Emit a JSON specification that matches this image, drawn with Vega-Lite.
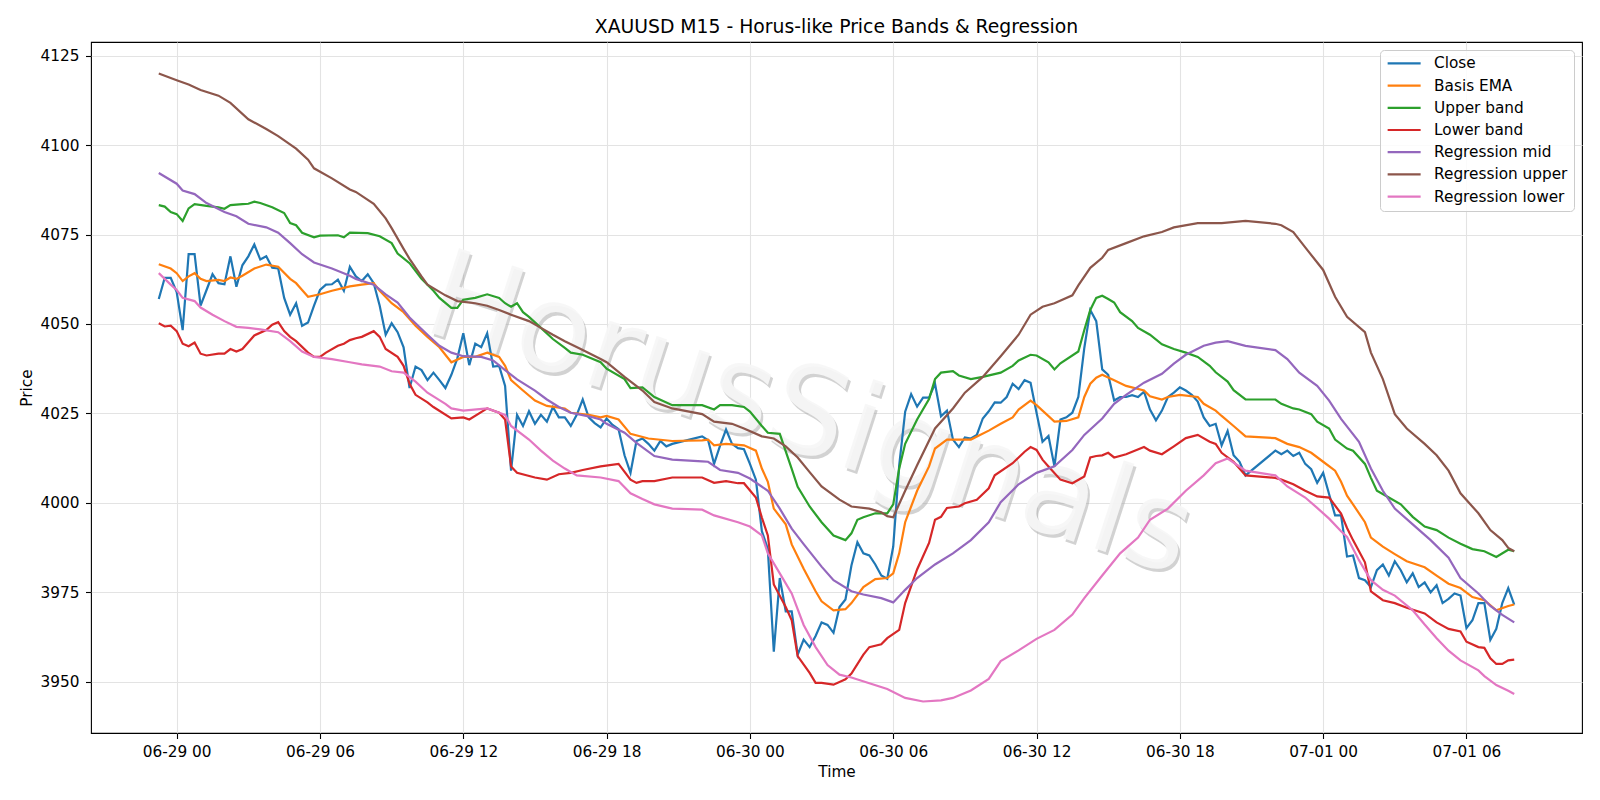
{
"$schema":"https://vega.github.io/schema/vega-lite/v6.json",
"width":1491,"height":691,
"autosize":{"type":"none"},
"padding":{"left":91,"top":42,"right":18,"bottom":67},
"background":"white",
"title":{"text":"XAUUSD M15 - Horus-like Price Bands & Regression","font":"DejaVu Sans","fontSize":18.8,"fontWeight":"normal","color":"black","anchor":"middle","offset":5},
"datasets":{
"wm":[{"t":"2025-06-30T02:31","v":4024.0,"label":"HorusSignals"}],
"close":[
{"t":"2025-06-28T23:15","v":4057.0},{"t":"2025-06-28T23:30","v":4062.9},{"t":"2025-06-28T23:45","v":4062.9},
{"t":"2025-06-29T00:00","v":4058.9},{"t":"2025-06-29T00:15","v":4048.3},{"t":"2025-06-29T00:30","v":4069.5},{"t":"2025-06-29T00:45","v":4069.5},
{"t":"2025-06-29T01:00","v":4055.1},{"t":"2025-06-29T01:15","v":4059.5},{"t":"2025-06-29T01:30","v":4063.9},{"t":"2025-06-29T01:45","v":4061.4},
{"t":"2025-06-29T02:00","v":4061.1},{"t":"2025-06-29T02:15","v":4068.9},{"t":"2025-06-29T02:30","v":4060.4},{"t":"2025-06-29T02:45","v":4066.4},
{"t":"2025-06-29T03:00","v":4068.9},{"t":"2025-06-29T03:15","v":4072.2},{"t":"2025-06-29T03:30","v":4068.0},{"t":"2025-06-29T03:45","v":4068.9},
{"t":"2025-06-29T04:00","v":4065.7},{"t":"2025-06-29T04:15","v":4065.5},{"t":"2025-06-29T04:30","v":4057.3},{"t":"2025-06-29T04:45","v":4052.6},
{"t":"2025-06-29T05:00","v":4055.8},{"t":"2025-06-29T05:15","v":4049.5},{"t":"2025-06-29T05:30","v":4050.4},{"t":"2025-06-29T05:45","v":4055.1},
{"t":"2025-06-29T06:00","v":4059.5},{"t":"2025-06-29T06:15","v":4061.0},{"t":"2025-06-29T06:30","v":4061.1},{"t":"2025-06-29T06:45","v":4062.4},
{"t":"2025-06-29T07:00","v":4059.3},{"t":"2025-06-29T07:15","v":4066.0},{"t":"2025-06-29T07:30","v":4063.3},{"t":"2025-06-29T07:45","v":4062.0},
{"t":"2025-06-29T08:00","v":4063.9},{"t":"2025-06-29T08:15","v":4061.4},{"t":"2025-06-29T08:30","v":4055.1},{"t":"2025-06-29T08:45","v":4047.0},
{"t":"2025-06-29T09:00","v":4050.2},{"t":"2025-06-29T09:15","v":4047.7},{"t":"2025-06-29T09:30","v":4043.5},{"t":"2025-06-29T09:45","v":4032.1},
{"t":"2025-06-29T10:00","v":4038.1},{"t":"2025-06-29T10:15","v":4037.1},{"t":"2025-06-29T10:30","v":4034.3},{"t":"2025-06-29T10:45","v":4036.4},
{"t":"2025-06-29T11:00","v":4034.3},{"t":"2025-06-29T11:15","v":4032.1},{"t":"2025-06-29T11:30","v":4035.8},{"t":"2025-06-29T11:45","v":4040.4},
{"t":"2025-06-29T12:00","v":4047.4},{"t":"2025-06-29T12:15","v":4038.5},{"t":"2025-06-29T12:30","v":4044.5},{"t":"2025-06-29T12:45","v":4043.5},
{"t":"2025-06-29T13:00","v":4047.4},{"t":"2025-06-29T13:15","v":4038.1},{"t":"2025-06-29T13:30","v":4038.3},{"t":"2025-06-29T13:45","v":4032.7},
{"t":"2025-06-29T14:00","v":4009.0},{"t":"2025-06-29T14:15","v":4024.6},{"t":"2025-06-29T14:30","v":4021.5},{"t":"2025-06-29T14:45","v":4025.6},
{"t":"2025-06-29T15:00","v":4022.1},{"t":"2025-06-29T15:15","v":4024.6},{"t":"2025-06-29T15:30","v":4022.7},{"t":"2025-06-29T15:45","v":4026.8},
{"t":"2025-06-29T16:00","v":4023.9},{"t":"2025-06-29T16:15","v":4023.9},{"t":"2025-06-29T16:30","v":4021.5},{"t":"2025-06-29T16:45","v":4024.6},
{"t":"2025-06-29T17:00","v":4028.9},{"t":"2025-06-29T17:15","v":4023.9},{"t":"2025-06-29T17:30","v":4022.3},{"t":"2025-06-29T17:45","v":4021.1},
{"t":"2025-06-29T18:00","v":4023.6},{"t":"2025-06-29T18:15","v":4021.8},{"t":"2025-06-29T18:30","v":4020.6},{"t":"2025-06-29T18:45","v":4013.3},
{"t":"2025-06-29T19:00","v":4008.4},{"t":"2025-06-29T19:15","v":4017.3},{"t":"2025-06-29T19:30","v":4018.0},{"t":"2025-06-29T19:45","v":4016.5},
{"t":"2025-06-29T20:00","v":4014.6},{"t":"2025-06-29T20:15","v":4017.3},{"t":"2025-06-29T20:30","v":4015.8},{"t":"2025-06-29T20:45","v":4016.5},
{"t":"2025-06-29T22:00","v":4018.6},{"t":"2025-06-29T22:15","v":4017.5},{"t":"2025-06-29T22:30","v":4010.9},{"t":"2025-06-29T22:45","v":4016.0},
{"t":"2025-06-29T23:00","v":4020.5},{"t":"2025-06-29T23:15","v":4016.5},{"t":"2025-06-29T23:30","v":4015.3},{"t":"2025-06-29T23:45","v":4015.0},
{"t":"2025-06-30T00:00","v":4010.9},{"t":"2025-06-30T00:15","v":4006.5},{"t":"2025-06-30T00:30","v":3992.1},{"t":"2025-06-30T00:45","v":3987.1},
{"t":"2025-06-30T01:00","v":3958.4},{"t":"2025-06-30T01:15","v":3979.0},{"t":"2025-06-30T01:30","v":3969.7},{"t":"2025-06-30T01:45","v":3969.7},
{"t":"2025-06-30T02:00","v":3957.6},{"t":"2025-06-30T02:15","v":3961.8},{"t":"2025-06-30T02:30","v":3959.7},{"t":"2025-06-30T02:45","v":3962.8},
{"t":"2025-06-30T03:00","v":3966.6},{"t":"2025-06-30T03:15","v":3965.9},{"t":"2025-06-30T03:30","v":3963.7},{"t":"2025-06-30T03:45","v":3970.9},
{"t":"2025-06-30T04:00","v":3973.0},{"t":"2025-06-30T04:15","v":3982.5},{"t":"2025-06-30T04:30","v":3989.0},{"t":"2025-06-30T04:45","v":3985.9},
{"t":"2025-06-30T05:00","v":3985.3},{"t":"2025-06-30T05:15","v":3982.8},{"t":"2025-06-30T05:30","v":3979.7},{"t":"2025-06-30T05:45","v":3978.8},
{"t":"2025-06-30T06:00","v":3987.8},{"t":"2025-06-30T06:15","v":4010.4},{"t":"2025-06-30T06:30","v":4025.5},{"t":"2025-06-30T06:45","v":4030.4},
{"t":"2025-06-30T07:00","v":4026.9},{"t":"2025-06-30T07:15","v":4029.4},{"t":"2025-06-30T07:30","v":4029.4},{"t":"2025-06-30T07:45","v":4033.3},
{"t":"2025-06-30T08:00","v":4024.2},{"t":"2025-06-30T08:15","v":4025.8},{"t":"2025-06-30T08:30","v":4017.7},{"t":"2025-06-30T08:45","v":4015.6},
{"t":"2025-06-30T09:00","v":4018.3},{"t":"2025-06-30T09:15","v":4018.0},{"t":"2025-06-30T09:30","v":4019.0},{"t":"2025-06-30T09:45","v":4023.6},
{"t":"2025-06-30T10:00","v":4025.6},{"t":"2025-06-30T10:15","v":4028.1},{"t":"2025-06-30T10:30","v":4028.0},{"t":"2025-06-30T10:45","v":4029.6},
{"t":"2025-06-30T11:00","v":4033.3},{"t":"2025-06-30T11:15","v":4031.8},{"t":"2025-06-30T11:30","v":4034.3},{"t":"2025-06-30T11:45","v":4033.6},
{"t":"2025-06-30T12:00","v":4025.2},{"t":"2025-06-30T12:15","v":4017.1},{"t":"2025-06-30T12:30","v":4018.7},{"t":"2025-06-30T12:45","v":4010.2},
{"t":"2025-06-30T13:00","v":4023.3},{"t":"2025-06-30T13:15","v":4023.9},{"t":"2025-06-30T13:30","v":4025.2},{"t":"2025-06-30T13:45","v":4029.6},
{"t":"2025-06-30T14:00","v":4043.3},{"t":"2025-06-30T14:15","v":4053.9},{"t":"2025-06-30T14:30","v":4050.8},{"t":"2025-06-30T14:45","v":4037.3},
{"t":"2025-06-30T15:00","v":4035.8},{"t":"2025-06-30T15:15","v":4028.6},{"t":"2025-06-30T15:30","v":4029.6},{"t":"2025-06-30T15:45","v":4029.6},
{"t":"2025-06-30T16:00","v":4030.1},{"t":"2025-06-30T16:15","v":4029.6},{"t":"2025-06-30T16:30","v":4031.1},{"t":"2025-06-30T16:45","v":4026.1},
{"t":"2025-06-30T17:00","v":4023.1},{"t":"2025-06-30T17:15","v":4025.8},{"t":"2025-06-30T17:30","v":4029.6},{"t":"2025-06-30T17:45","v":4030.8},
{"t":"2025-06-30T18:00","v":4032.3},{"t":"2025-06-30T18:15","v":4031.4},{"t":"2025-06-30T18:30","v":4030.2},{"t":"2025-06-30T18:45","v":4028.3},
{"t":"2025-06-30T19:00","v":4023.9},{"t":"2025-06-30T19:15","v":4021.5},{"t":"2025-06-30T19:30","v":4022.1},{"t":"2025-06-30T19:45","v":4016.1},
{"t":"2025-06-30T20:00","v":4020.1},{"t":"2025-06-30T20:15","v":4013.3},{"t":"2025-06-30T20:30","v":4011.5},{"t":"2025-06-30T20:45","v":4007.7},
{"t":"2025-06-30T22:00","v":4014.6},{"t":"2025-06-30T22:15","v":4013.6},{"t":"2025-06-30T22:30","v":4014.6},{"t":"2025-06-30T22:45","v":4013.1},
{"t":"2025-06-30T23:00","v":4014.0},{"t":"2025-06-30T23:15","v":4010.9},{"t":"2025-06-30T23:30","v":4009.4},{"t":"2025-06-30T23:45","v":4005.6},
{"t":"2025-07-01T00:00","v":4008.4},{"t":"2025-07-01T00:15","v":4002.4},{"t":"2025-07-01T00:30","v":3996.5},{"t":"2025-07-01T00:45","v":3996.5},
{"t":"2025-07-01T01:00","v":3985.0},{"t":"2025-07-01T01:15","v":3985.3},{"t":"2025-07-01T01:30","v":3979.0},{"t":"2025-07-01T01:45","v":3978.4},
{"t":"2025-07-01T02:00","v":3976.5},{"t":"2025-07-01T02:15","v":3981.2},{"t":"2025-07-01T02:30","v":3982.8},{"t":"2025-07-01T02:45","v":3979.7},
{"t":"2025-07-01T03:00","v":3983.7},{"t":"2025-07-01T03:15","v":3981.2},{"t":"2025-07-01T03:30","v":3977.8},{"t":"2025-07-01T03:45","v":3980.3},
{"t":"2025-07-01T04:00","v":3976.5},{"t":"2025-07-01T04:15","v":3977.8},{"t":"2025-07-01T04:30","v":3975.0},{"t":"2025-07-01T04:45","v":3977.0},
{"t":"2025-07-01T05:00","v":3972.0},{"t":"2025-07-01T05:15","v":3973.2},{"t":"2025-07-01T05:30","v":3974.7},{"t":"2025-07-01T05:45","v":3974.1},
{"t":"2025-07-01T06:00","v":3965.0},{"t":"2025-07-01T06:15","v":3967.2},{"t":"2025-07-01T06:30","v":3972.0},{"t":"2025-07-01T06:45","v":3972.0},
{"t":"2025-07-01T07:00","v":3961.7},{"t":"2025-07-01T07:15","v":3964.8},{"t":"2025-07-01T07:30","v":3972.0},{"t":"2025-07-01T07:45","v":3976.2},
{"t":"2025-07-01T08:00","v":3971.6}
],
"ema":[
{"t":"2025-06-28T23:15","v":4066.7},{"t":"2025-06-28T23:45","v":4065.5},{"t":"2025-06-29T00:00","v":4064.2},{"t":"2025-06-29T00:15","v":4062.0},
{"t":"2025-06-29T00:30","v":4063.3},{"t":"2025-06-29T00:45","v":4064.2},{"t":"2025-06-29T01:00","v":4062.6},{"t":"2025-06-29T01:15","v":4062.0},
{"t":"2025-06-29T01:45","v":4062.3},{"t":"2025-06-29T02:00","v":4062.0},{"t":"2025-06-29T02:15","v":4063.0},{"t":"2025-06-29T02:30","v":4062.6},
{"t":"2025-06-29T02:45","v":4063.5},{"t":"2025-06-29T03:15","v":4065.5},{"t":"2025-06-29T03:45","v":4066.6},{"t":"2025-06-29T04:15","v":4066.0},
{"t":"2025-06-29T04:45","v":4062.6},{"t":"2025-06-29T05:00","v":4061.4},{"t":"2025-06-29T05:15","v":4059.5},{"t":"2025-06-29T05:30","v":4057.6},
{"t":"2025-06-29T06:00","v":4058.3},{"t":"2025-06-29T06:30","v":4059.3},{"t":"2025-06-29T07:00","v":4060.1},{"t":"2025-06-29T07:15","v":4060.5},
{"t":"2025-06-29T07:45","v":4061.0},{"t":"2025-06-29T08:15","v":4061.4},{"t":"2025-06-29T08:30","v":4059.3},{"t":"2025-06-29T09:00","v":4055.8},
{"t":"2025-06-29T09:30","v":4053.3},{"t":"2025-06-29T10:00","v":4049.5},{"t":"2025-06-29T10:30","v":4046.4},{"t":"2025-06-29T11:00","v":4043.5},
{"t":"2025-06-29T11:30","v":4039.3},{"t":"2025-06-29T12:00","v":4040.8},{"t":"2025-06-29T12:30","v":4040.8},{"t":"2025-06-29T13:00","v":4042.0},
{"t":"2025-06-29T13:30","v":4040.8},{"t":"2025-06-29T13:45","v":4038.3},{"t":"2025-06-29T14:00","v":4034.3},{"t":"2025-06-29T14:30","v":4031.4},
{"t":"2025-06-29T15:00","v":4028.6},{"t":"2025-06-29T15:30","v":4027.1},{"t":"2025-06-29T16:15","v":4026.4},{"t":"2025-06-29T16:30","v":4025.2},
{"t":"2025-06-29T17:15","v":4024.6},{"t":"2025-06-29T17:45","v":4023.9},{"t":"2025-06-29T18:00","v":4024.3},{"t":"2025-06-29T18:30","v":4023.3},
{"t":"2025-06-29T19:00","v":4019.3},{"t":"2025-06-29T19:45","v":4018.0},{"t":"2025-06-29T20:45","v":4017.3},{"t":"2025-06-29T22:00","v":4017.5},
{"t":"2025-06-29T22:15","v":4017.7},{"t":"2025-06-29T22:30","v":4016.1},{"t":"2025-06-29T23:00","v":4016.5},{"t":"2025-06-29T23:45","v":4016.1},
{"t":"2025-06-30T00:15","v":4014.6},{"t":"2025-06-30T00:30","v":4009.6},{"t":"2025-06-30T00:45","v":4005.9},{"t":"2025-06-30T01:00","v":3998.4},
{"t":"2025-06-30T01:30","v":3994.0},{"t":"2025-06-30T01:45","v":3988.4},{"t":"2025-06-30T02:15","v":3981.6},{"t":"2025-06-30T02:45","v":3975.3},
{"t":"2025-06-30T03:00","v":3972.5},{"t":"2025-06-30T03:30","v":3970.0},{"t":"2025-06-30T04:00","v":3970.3},{"t":"2025-06-30T04:15","v":3972.0},
{"t":"2025-06-30T04:45","v":3976.5},{"t":"2025-06-30T05:15","v":3978.7},{"t":"2025-06-30T05:45","v":3979.0},{"t":"2025-06-30T06:00","v":3980.3},
{"t":"2025-06-30T06:15","v":3985.9},{"t":"2025-06-30T06:30","v":3994.6},{"t":"2025-06-30T07:00","v":4003.4},{"t":"2025-06-30T07:30","v":4010.2},
{"t":"2025-06-30T07:45","v":4015.2},{"t":"2025-06-30T08:15","v":4017.7},{"t":"2025-06-30T08:45","v":4017.7},{"t":"2025-06-30T09:15","v":4017.7},
{"t":"2025-06-30T10:00","v":4020.2},{"t":"2025-06-30T10:30","v":4022.1},{"t":"2025-06-30T11:00","v":4023.9},{"t":"2025-06-30T11:15","v":4026.1},
{"t":"2025-06-30T11:45","v":4028.6},{"t":"2025-06-30T12:00","v":4027.3},{"t":"2025-06-30T12:45","v":4022.7},{"t":"2025-06-30T13:15","v":4022.9},
{"t":"2025-06-30T13:45","v":4023.9},{"t":"2025-06-30T14:00","v":4029.6},{"t":"2025-06-30T14:15","v":4033.3},{"t":"2025-06-30T14:30","v":4035.0},
{"t":"2025-06-30T14:45","v":4035.8},{"t":"2025-06-30T15:15","v":4034.3},{"t":"2025-06-30T15:45","v":4032.7},{"t":"2025-06-30T16:30","v":4031.4},
{"t":"2025-06-30T16:45","v":4029.8},{"t":"2025-06-30T17:15","v":4028.9},{"t":"2025-06-30T17:30","v":4029.6},{"t":"2025-06-30T18:00","v":4030.2},
{"t":"2025-06-30T18:45","v":4029.6},{"t":"2025-06-30T19:00","v":4027.7},{"t":"2025-06-30T19:30","v":4025.8},{"t":"2025-06-30T19:45","v":4024.3},
{"t":"2025-06-30T20:15","v":4021.5},{"t":"2025-06-30T20:45","v":4018.6},{"t":"2025-06-30T22:00","v":4018.1},{"t":"2025-06-30T22:30","v":4016.5},
{"t":"2025-06-30T23:00","v":4015.6},{"t":"2025-06-30T23:30","v":4014.0},{"t":"2025-07-01T00:00","v":4011.5},{"t":"2025-07-01T00:30","v":4009.0},
{"t":"2025-07-01T00:45","v":4005.9},{"t":"2025-07-01T01:00","v":4002.0},{"t":"2025-07-01T01:15","v":3999.6},{"t":"2025-07-01T01:45","v":3994.6},
{"t":"2025-07-01T02:00","v":3990.3},{"t":"2025-07-01T02:30","v":3987.8},{"t":"2025-07-01T03:00","v":3985.7},{"t":"2025-07-01T03:30","v":3983.7},
{"t":"2025-07-01T04:15","v":3982.0},{"t":"2025-07-01T04:45","v":3979.7},{"t":"2025-07-01T05:15","v":3977.4},{"t":"2025-07-01T05:45","v":3976.2},
{"t":"2025-07-01T06:15","v":3973.7},{"t":"2025-07-01T06:45","v":3972.8},{"t":"2025-07-01T07:15","v":3970.0},{"t":"2025-07-01T07:45","v":3971.2},
{"t":"2025-07-01T08:00","v":3971.6}
],
"up":[
{"t":"2025-06-28T23:15","v":4083.2},{"t":"2025-06-28T23:30","v":4082.8},{"t":"2025-06-28T23:45","v":4081.3},{"t":"2025-06-29T00:00","v":4080.7},
{"t":"2025-06-29T00:15","v":4078.8},{"t":"2025-06-29T00:30","v":4082.3},{"t":"2025-06-29T00:45","v":4083.5},{"t":"2025-06-29T01:15","v":4083.0},
{"t":"2025-06-29T01:45","v":4082.6},{"t":"2025-06-29T02:00","v":4082.2},{"t":"2025-06-29T02:15","v":4083.2},{"t":"2025-06-29T02:45","v":4083.5},
{"t":"2025-06-29T03:00","v":4083.6},{"t":"2025-06-29T03:15","v":4084.2},{"t":"2025-06-29T03:30","v":4083.8},{"t":"2025-06-29T04:00","v":4082.6},
{"t":"2025-06-29T04:30","v":4081.0},{"t":"2025-06-29T04:45","v":4078.2},{"t":"2025-06-29T05:00","v":4077.6},{"t":"2025-06-29T05:15","v":4075.5},
{"t":"2025-06-29T05:45","v":4074.2},{"t":"2025-06-29T06:00","v":4074.7},{"t":"2025-06-29T06:45","v":4074.8},{"t":"2025-06-29T07:00","v":4074.2},
{"t":"2025-06-29T07:15","v":4075.5},{"t":"2025-06-29T08:00","v":4075.4},{"t":"2025-06-29T08:30","v":4074.5},{"t":"2025-06-29T09:00","v":4072.6},
{"t":"2025-06-29T09:15","v":4069.7},{"t":"2025-06-29T09:45","v":4067.0},{"t":"2025-06-29T10:15","v":4062.6},{"t":"2025-06-29T10:45","v":4059.3},
{"t":"2025-06-29T11:00","v":4057.3},{"t":"2025-06-29T11:30","v":4054.5},{"t":"2025-06-29T11:45","v":4054.5},{"t":"2025-06-29T12:00","v":4056.8},
{"t":"2025-06-29T12:30","v":4057.3},{"t":"2025-06-29T13:00","v":4058.3},{"t":"2025-06-29T13:30","v":4057.3},{"t":"2025-06-29T13:45","v":4055.8},
{"t":"2025-06-29T14:00","v":4054.8},{"t":"2025-06-29T14:15","v":4055.8},{"t":"2025-06-29T14:30","v":4053.3},{"t":"2025-06-29T14:45","v":4052.0},
{"t":"2025-06-29T15:15","v":4048.9},{"t":"2025-06-29T15:45","v":4045.8},{"t":"2025-06-29T16:15","v":4043.3},{"t":"2025-06-29T16:30","v":4042.0},
{"t":"2025-06-29T17:00","v":4041.4},{"t":"2025-06-29T17:45","v":4039.3},{"t":"2025-06-29T18:00","v":4037.5},{"t":"2025-06-29T18:45","v":4034.6},
{"t":"2025-06-29T19:00","v":4032.1},{"t":"2025-06-29T19:30","v":4032.3},{"t":"2025-06-29T20:00","v":4029.6},{"t":"2025-06-29T20:45","v":4027.3},
{"t":"2025-06-29T22:00","v":4027.3},{"t":"2025-06-29T22:30","v":4026.1},{"t":"2025-06-29T22:45","v":4027.3},{"t":"2025-06-29T23:15","v":4027.3},
{"t":"2025-06-29T23:45","v":4026.8},{"t":"2025-06-30T00:00","v":4025.5},{"t":"2025-06-30T00:30","v":4021.5},{"t":"2025-06-30T00:45","v":4019.6},
{"t":"2025-06-30T01:15","v":4019.3},{"t":"2025-06-30T01:45","v":4009.5},{"t":"2025-06-30T02:00","v":4004.5},{"t":"2025-06-30T02:30","v":3999.0},
{"t":"2025-06-30T03:00","v":3994.6},{"t":"2025-06-30T03:30","v":3990.9},{"t":"2025-06-30T04:00","v":3989.6},{"t":"2025-06-30T04:15","v":3991.5},
{"t":"2025-06-30T04:30","v":3995.3},{"t":"2025-06-30T04:45","v":3996.0},{"t":"2025-06-30T05:15","v":3997.1},{"t":"2025-06-30T05:45","v":3997.1},
{"t":"2025-06-30T06:00","v":3999.6},{"t":"2025-06-30T06:15","v":4009.6},{"t":"2025-06-30T06:30","v":4016.5},{"t":"2025-06-30T07:00","v":4023.3},
{"t":"2025-06-30T07:30","v":4029.0},{"t":"2025-06-30T07:45","v":4034.6},{"t":"2025-06-30T08:00","v":4036.4},{"t":"2025-06-30T08:30","v":4036.8},
{"t":"2025-06-30T08:45","v":4035.6},{"t":"2025-06-30T09:15","v":4034.6},{"t":"2025-06-30T09:45","v":4035.2},{"t":"2025-06-30T10:30","v":4036.4},
{"t":"2025-06-30T11:00","v":4038.3},{"t":"2025-06-30T11:15","v":4039.8},{"t":"2025-06-30T11:45","v":4041.4},{"t":"2025-06-30T12:00","v":4041.2},
{"t":"2025-06-30T12:30","v":4039.3},{"t":"2025-06-30T12:45","v":4037.3},{"t":"2025-06-30T13:00","v":4039.0},{"t":"2025-06-30T13:45","v":4042.3},
{"t":"2025-06-30T14:00","v":4048.3},{"t":"2025-06-30T14:15","v":4053.9},{"t":"2025-06-30T14:30","v":4057.3},{"t":"2025-06-30T14:45","v":4057.9},
{"t":"2025-06-30T15:00","v":4057.0},{"t":"2025-06-30T15:15","v":4056.0},{"t":"2025-06-30T15:30","v":4053.3},{"t":"2025-06-30T16:00","v":4050.8},
{"t":"2025-06-30T16:15","v":4048.9},{"t":"2025-06-30T16:45","v":4047.0},{"t":"2025-06-30T17:15","v":4044.3},{"t":"2025-06-30T17:45","v":4043.0},
{"t":"2025-06-30T18:15","v":4042.0},{"t":"2025-06-30T18:45","v":4040.8},{"t":"2025-06-30T19:15","v":4038.3},{"t":"2025-06-30T19:30","v":4036.5},
{"t":"2025-06-30T20:00","v":4033.9},{"t":"2025-06-30T20:15","v":4031.5},{"t":"2025-06-30T20:45","v":4028.9},{"t":"2025-06-30T22:00","v":4028.9},
{"t":"2025-06-30T22:15","v":4027.7},{"t":"2025-06-30T22:45","v":4026.4},{"t":"2025-06-30T23:00","v":4026.1},{"t":"2025-06-30T23:30","v":4024.8},
{"t":"2025-06-30T23:45","v":4022.7},{"t":"2025-07-01T00:15","v":4020.8},{"t":"2025-07-01T00:30","v":4017.7},{"t":"2025-07-01T01:00","v":4015.2},
{"t":"2025-07-01T01:15","v":4014.6},{"t":"2025-07-01T01:45","v":4010.9},{"t":"2025-07-01T02:00","v":4007.0},{"t":"2025-07-01T02:15","v":4003.4},
{"t":"2025-07-01T02:45","v":4001.5},{"t":"2025-07-01T03:15","v":3999.6},{"t":"2025-07-01T03:45","v":3996.1},{"t":"2025-07-01T04:15","v":3993.4},
{"t":"2025-07-01T04:45","v":3992.4},{"t":"2025-07-01T05:15","v":3990.3},{"t":"2025-07-01T05:45","v":3988.6},{"t":"2025-07-01T06:15","v":3987.1},
{"t":"2025-07-01T06:45","v":3986.5},{"t":"2025-07-01T07:15","v":3984.9},{"t":"2025-07-01T07:45","v":3986.9},{"t":"2025-07-01T08:00","v":3986.5}
],
"lo":[
{"t":"2025-06-28T23:15","v":4050.2},{"t":"2025-06-28T23:30","v":4049.3},{"t":"2025-06-28T23:45","v":4049.5},{"t":"2025-06-29T00:00","v":4048.0},
{"t":"2025-06-29T00:15","v":4044.5},{"t":"2025-06-29T00:30","v":4043.8},{"t":"2025-06-29T00:45","v":4044.8},{"t":"2025-06-29T01:00","v":4041.7},
{"t":"2025-06-29T01:15","v":4041.2},{"t":"2025-06-29T01:45","v":4041.7},{"t":"2025-06-29T02:00","v":4041.7},{"t":"2025-06-29T02:15","v":4043.0},
{"t":"2025-06-29T02:30","v":4042.3},{"t":"2025-06-29T02:45","v":4043.0},{"t":"2025-06-29T03:00","v":4044.9},{"t":"2025-06-29T03:15","v":4046.8},
{"t":"2025-06-29T03:45","v":4048.3},{"t":"2025-06-29T04:00","v":4049.8},{"t":"2025-06-29T04:15","v":4050.5},{"t":"2025-06-29T04:30","v":4048.0},
{"t":"2025-06-29T04:45","v":4046.4},{"t":"2025-06-29T05:00","v":4045.2},{"t":"2025-06-29T05:30","v":4042.0},{"t":"2025-06-29T05:45","v":4040.8},
{"t":"2025-06-29T06:00","v":4040.8},{"t":"2025-06-29T06:15","v":4042.0},{"t":"2025-06-29T06:45","v":4043.9},{"t":"2025-06-29T07:00","v":4044.5},
{"t":"2025-06-29T07:15","v":4045.5},{"t":"2025-06-29T07:30","v":4046.0},{"t":"2025-06-29T07:45","v":4046.4},{"t":"2025-06-29T08:15","v":4048.0},
{"t":"2025-06-29T08:30","v":4046.4},{"t":"2025-06-29T08:45","v":4043.0},{"t":"2025-06-29T09:15","v":4040.8},{"t":"2025-06-29T09:30","v":4038.3},
{"t":"2025-06-29T09:45","v":4033.3},{"t":"2025-06-29T10:00","v":4030.2},{"t":"2025-06-29T10:30","v":4028.1},{"t":"2025-06-29T10:45","v":4026.8},
{"t":"2025-06-29T11:30","v":4023.6},{"t":"2025-06-29T12:00","v":4023.9},{"t":"2025-06-29T12:15","v":4023.3},{"t":"2025-06-29T13:00","v":4026.4},
{"t":"2025-06-29T13:30","v":4025.2},{"t":"2025-06-29T13:45","v":4023.3},{"t":"2025-06-29T14:00","v":4010.2},{"t":"2025-06-29T14:15","v":4008.4},
{"t":"2025-06-29T15:00","v":4007.1},{"t":"2025-06-29T15:30","v":4006.5},{"t":"2025-06-29T16:00","v":4008.0},{"t":"2025-06-29T16:30","v":4008.4},
{"t":"2025-06-29T17:00","v":4009.2},{"t":"2025-06-29T17:45","v":4010.2},{"t":"2025-06-29T18:30","v":4010.9},{"t":"2025-06-29T19:00","v":4006.5},
{"t":"2025-06-29T19:15","v":4005.6},{"t":"2025-06-29T19:30","v":4006.1},{"t":"2025-06-29T20:00","v":4006.1},{"t":"2025-06-29T20:45","v":4007.1},
{"t":"2025-06-29T22:00","v":4007.1},{"t":"2025-06-29T22:30","v":4005.6},{"t":"2025-06-29T23:00","v":4006.1},{"t":"2025-06-29T23:30","v":4005.5},
{"t":"2025-06-29T23:45","v":4005.5},{"t":"2025-06-30T00:15","v":4001.5},{"t":"2025-06-30T00:30","v":3995.9},{"t":"2025-06-30T00:45","v":3990.9},
{"t":"2025-06-30T01:00","v":3977.2},{"t":"2025-06-30T01:30","v":3970.9},{"t":"2025-06-30T01:45","v":3967.2},{"t":"2025-06-30T02:00","v":3957.2},
{"t":"2025-06-30T02:30","v":3952.5},{"t":"2025-06-30T02:45","v":3949.7},{"t":"2025-06-30T03:00","v":3949.7},{"t":"2025-06-30T03:30","v":3949.2},
{"t":"2025-06-30T04:00","v":3950.7},{"t":"2025-06-30T04:15","v":3952.3},{"t":"2025-06-30T04:45","v":3957.6},{"t":"2025-06-30T05:00","v":3959.7},
{"t":"2025-06-30T05:30","v":3960.5},{"t":"2025-06-30T05:45","v":3962.2},{"t":"2025-06-30T06:15","v":3964.5},{"t":"2025-06-30T06:30","v":3972.0},
{"t":"2025-06-30T07:00","v":3981.4},{"t":"2025-06-30T07:30","v":3988.8},{"t":"2025-06-30T07:45","v":3995.3},{"t":"2025-06-30T08:00","v":3996.1},
{"t":"2025-06-30T08:15","v":3998.6},{"t":"2025-06-30T08:45","v":3999.0},{"t":"2025-06-30T09:00","v":3999.9},{"t":"2025-06-30T09:30","v":4000.9},
{"t":"2025-06-30T10:00","v":4004.1},{"t":"2025-06-30T10:15","v":4007.7},{"t":"2025-06-30T11:00","v":4011.1},{"t":"2025-06-30T11:30","v":4014.3},
{"t":"2025-06-30T11:45","v":4015.6},{"t":"2025-06-30T12:00","v":4014.8},{"t":"2025-06-30T12:15","v":4012.1},{"t":"2025-06-30T12:30","v":4010.2},
{"t":"2025-06-30T13:00","v":4006.5},{"t":"2025-06-30T13:30","v":4005.5},{"t":"2025-06-30T14:00","v":4007.4},{"t":"2025-06-30T14:15","v":4012.7},
{"t":"2025-06-30T14:30","v":4013.1},{"t":"2025-06-30T14:45","v":4013.3},{"t":"2025-06-30T15:00","v":4014.0},{"t":"2025-06-30T15:15","v":4012.7},
{"t":"2025-06-30T15:45","v":4013.6},{"t":"2025-06-30T16:30","v":4015.6},{"t":"2025-06-30T16:45","v":4014.6},{"t":"2025-06-30T17:15","v":4013.6},
{"t":"2025-06-30T17:45","v":4015.8},{"t":"2025-06-30T18:15","v":4018.1},{"t":"2025-06-30T18:45","v":4019.0},{"t":"2025-06-30T19:15","v":4017.1},
{"t":"2025-06-30T19:30","v":4016.5},{"t":"2025-06-30T19:45","v":4014.0},{"t":"2025-06-30T20:15","v":4011.5},{"t":"2025-06-30T20:45","v":4007.7},
{"t":"2025-06-30T22:00","v":4007.0},{"t":"2025-06-30T22:15","v":4006.5},{"t":"2025-06-30T22:45","v":4005.2},{"t":"2025-06-30T23:15","v":4003.4},
{"t":"2025-06-30T23:45","v":4001.8},{"t":"2025-07-01T00:15","v":4001.5},{"t":"2025-07-01T00:45","v":3997.0},{"t":"2025-07-01T01:00","v":3993.0},
{"t":"2025-07-01T01:15","v":3989.6},{"t":"2025-07-01T01:45","v":3983.4},{"t":"2025-07-01T02:00","v":3975.3},{"t":"2025-07-01T02:30","v":3972.8},
{"t":"2025-07-01T03:00","v":3972.0},{"t":"2025-07-01T03:30","v":3970.7},{"t":"2025-07-01T04:15","v":3969.1},{"t":"2025-07-01T04:45","v":3966.6},
{"t":"2025-07-01T05:15","v":3964.8},{"t":"2025-07-01T05:45","v":3964.1},{"t":"2025-07-01T06:00","v":3961.2},{"t":"2025-07-01T06:30","v":3959.7},
{"t":"2025-07-01T06:45","v":3959.5},{"t":"2025-07-01T07:00","v":3956.6},{"t":"2025-07-01T07:15","v":3955.0},{"t":"2025-07-01T07:30","v":3955.0},
{"t":"2025-07-01T07:45","v":3956.0},{"t":"2025-07-01T08:00","v":3956.2}
],
"rmid":[
{"t":"2025-06-28T23:15","v":4092.2},{"t":"2025-06-29T00:00","v":4089.2},{"t":"2025-06-29T00:15","v":4087.3},{"t":"2025-06-29T00:45","v":4086.3},
{"t":"2025-06-29T01:15","v":4083.8},{"t":"2025-06-29T02:00","v":4081.3},{"t":"2025-06-29T02:30","v":4080.1},{"t":"2025-06-29T03:00","v":4078.0},
{"t":"2025-06-29T03:45","v":4077.0},{"t":"2025-06-29T04:15","v":4075.5},{"t":"2025-06-29T04:45","v":4072.6},{"t":"2025-06-29T05:15","v":4069.5},
{"t":"2025-06-29T05:45","v":4067.2},{"t":"2025-06-29T06:30","v":4065.5},{"t":"2025-06-29T07:15","v":4063.5},{"t":"2025-06-29T07:30","v":4062.6},
{"t":"2025-06-29T08:15","v":4061.0},{"t":"2025-06-29T08:45","v":4058.3},{"t":"2025-06-29T09:15","v":4056.0},{"t":"2025-06-29T09:45","v":4051.8},
{"t":"2025-06-29T10:30","v":4047.0},{"t":"2025-06-29T11:00","v":4043.9},{"t":"2025-06-29T11:30","v":4042.0},{"t":"2025-06-29T12:00","v":4041.0},
{"t":"2025-06-29T12:45","v":4040.8},{"t":"2025-06-29T13:15","v":4039.8},{"t":"2025-06-29T13:45","v":4037.1},{"t":"2025-06-29T14:15","v":4034.5},
{"t":"2025-06-29T15:00","v":4031.4},{"t":"2025-06-29T15:30","v":4028.9},{"t":"2025-06-29T16:00","v":4026.8},{"t":"2025-06-29T16:30","v":4025.2},
{"t":"2025-06-29T17:15","v":4024.2},{"t":"2025-06-29T17:45","v":4023.3},{"t":"2025-06-29T18:00","v":4022.1},{"t":"2025-06-29T18:45","v":4019.6},
{"t":"2025-06-29T19:15","v":4016.8},{"t":"2025-06-29T20:00","v":4013.1},{"t":"2025-06-29T20:45","v":4012.1},{"t":"2025-06-29T22:00","v":4011.6},
{"t":"2025-06-29T22:15","v":4011.5},{"t":"2025-06-29T22:45","v":4009.2},{"t":"2025-06-29T23:30","v":4008.4},{"t":"2025-06-30T00:00","v":4006.8},
{"t":"2025-06-30T00:45","v":4003.4},{"t":"2025-06-30T01:15","v":3998.4},{"t":"2025-06-30T01:45","v":3992.8},{"t":"2025-06-30T02:15","v":3988.5},
{"t":"2025-06-30T03:00","v":3982.2},{"t":"2025-06-30T03:30","v":3978.4},{"t":"2025-06-30T04:15","v":3975.3},{"t":"2025-06-30T04:45","v":3974.4},
{"t":"2025-06-30T05:30","v":3973.4},{"t":"2025-06-30T06:00","v":3972.2},{"t":"2025-06-30T06:30","v":3975.7},{"t":"2025-06-30T07:00","v":3979.0},
{"t":"2025-06-30T07:45","v":3982.8},{"t":"2025-06-30T08:30","v":3985.9},{"t":"2025-06-30T09:15","v":3989.6},{"t":"2025-06-30T10:00","v":3994.6},
{"t":"2025-06-30T10:30","v":4000.2},{"t":"2025-06-30T11:15","v":4005.2},{"t":"2025-06-30T12:00","v":4008.4},{"t":"2025-06-30T12:45","v":4010.2},
{"t":"2025-06-30T13:30","v":4014.8},{"t":"2025-06-30T14:00","v":4019.0},{"t":"2025-06-30T14:45","v":4023.6},{"t":"2025-06-30T15:15","v":4027.7},
{"t":"2025-06-30T15:45","v":4030.2},{"t":"2025-06-30T16:30","v":4033.6},{"t":"2025-06-30T17:15","v":4036.1},{"t":"2025-06-30T17:45","v":4038.9},
{"t":"2025-06-30T18:15","v":4041.4},{"t":"2025-06-30T19:00","v":4043.9},{"t":"2025-06-30T19:30","v":4044.8},{"t":"2025-06-30T20:00","v":4045.2},
{"t":"2025-06-30T20:45","v":4043.9},{"t":"2025-06-30T22:00","v":4042.7},{"t":"2025-06-30T22:30","v":4040.2},{"t":"2025-06-30T23:00","v":4036.4},
{"t":"2025-06-30T23:45","v":4032.7},{"t":"2025-07-01T00:15","v":4028.6},{"t":"2025-07-01T00:45","v":4023.5},{"t":"2025-07-01T01:30","v":4017.1},
{"t":"2025-07-01T02:00","v":4009.6},{"t":"2025-07-01T02:30","v":4003.4},{"t":"2025-07-01T03:00","v":3998.4},{"t":"2025-07-01T03:45","v":3994.0},
{"t":"2025-07-01T04:30","v":3989.6},{"t":"2025-07-01T05:15","v":3984.7},{"t":"2025-07-01T05:45","v":3979.0},{"t":"2025-07-01T06:30","v":3974.7},
{"t":"2025-07-01T07:00","v":3971.2},{"t":"2025-07-01T07:30","v":3968.7},{"t":"2025-07-01T08:00","v":3966.6}
],
"rup":[
{"t":"2025-06-28T23:15","v":4120.0},{"t":"2025-06-29T00:00","v":4118.1},{"t":"2025-06-29T00:30","v":4116.9},{"t":"2025-06-29T01:00","v":4115.4},
{"t":"2025-06-29T01:45","v":4113.8},{"t":"2025-06-29T02:15","v":4111.8},{"t":"2025-06-29T03:00","v":4107.2},{"t":"2025-06-29T03:45","v":4104.5},
{"t":"2025-06-29T04:15","v":4102.5},{"t":"2025-06-29T05:00","v":4099.0},{"t":"2025-06-29T05:30","v":4095.9},{"t":"2025-06-29T05:45","v":4093.5},
{"t":"2025-06-29T06:30","v":4090.7},{"t":"2025-06-29T07:15","v":4087.6},{"t":"2025-06-29T07:30","v":4086.9},{"t":"2025-06-29T08:15","v":4083.6},
{"t":"2025-06-29T08:45","v":4079.5},{"t":"2025-06-29T09:00","v":4076.8},{"t":"2025-06-29T09:30","v":4071.0},{"t":"2025-06-29T09:45","v":4068.2},
{"t":"2025-06-29T10:15","v":4063.3},{"t":"2025-06-29T10:30","v":4061.0},{"t":"2025-06-29T11:15","v":4058.0},{"t":"2025-06-29T11:45","v":4056.4},
{"t":"2025-06-29T12:30","v":4055.8},{"t":"2025-06-29T13:00","v":4055.1},{"t":"2025-06-29T13:30","v":4053.9},{"t":"2025-06-29T14:00","v":4052.6},
{"t":"2025-06-29T14:45","v":4050.8},{"t":"2025-06-29T15:15","v":4048.9},{"t":"2025-06-29T15:45","v":4047.0},{"t":"2025-06-29T16:15","v":4045.2},
{"t":"2025-06-29T17:00","v":4042.7},{"t":"2025-06-29T17:45","v":4040.2},{"t":"2025-06-29T18:00","v":4039.3},{"t":"2025-06-29T18:45","v":4035.2},
{"t":"2025-06-29T19:30","v":4031.4},{"t":"2025-06-29T20:00","v":4028.2},{"t":"2025-06-29T20:45","v":4026.4},{"t":"2025-06-29T22:00","v":4024.8},
{"t":"2025-06-29T22:30","v":4022.7},{"t":"2025-06-29T23:15","v":4022.1},{"t":"2025-06-29T23:45","v":4020.8},{"t":"2025-06-30T00:30","v":4018.6},
{"t":"2025-06-30T01:00","v":4018.0},{"t":"2025-06-30T01:30","v":4015.8},{"t":"2025-06-30T02:00","v":4012.7},{"t":"2025-06-30T02:30","v":4008.6},
{"t":"2025-06-30T03:00","v":4004.6},{"t":"2025-06-30T03:45","v":4000.9},{"t":"2025-06-30T04:15","v":3999.0},{"t":"2025-06-30T05:00","v":3998.4},
{"t":"2025-06-30T05:30","v":3997.4},{"t":"2025-06-30T05:45","v":3996.3},{"t":"2025-06-30T06:00","v":3996.0},{"t":"2025-06-30T06:30","v":4003.4},
{"t":"2025-06-30T07:00","v":4010.5},{"t":"2025-06-30T07:45","v":4020.8},{"t":"2025-06-30T08:30","v":4026.4},{"t":"2025-06-30T09:00","v":4030.8},
{"t":"2025-06-30T09:45","v":4035.2},{"t":"2025-06-30T10:30","v":4041.0},{"t":"2025-06-30T11:15","v":4047.0},{"t":"2025-06-30T11:45","v":4052.6},
{"t":"2025-06-30T12:15","v":4054.8},{"t":"2025-06-30T12:45","v":4055.8},{"t":"2025-06-30T13:30","v":4058.0},{"t":"2025-06-30T13:45","v":4060.8},
{"t":"2025-06-30T14:15","v":4065.7},{"t":"2025-06-30T14:45","v":4068.5},{"t":"2025-06-30T15:00","v":4070.7},{"t":"2025-06-30T15:45","v":4072.6},
{"t":"2025-06-30T16:30","v":4074.5},{"t":"2025-06-30T17:15","v":4075.7},{"t":"2025-06-30T17:45","v":4077.0},{"t":"2025-06-30T18:45","v":4078.2},
{"t":"2025-06-30T19:45","v":4078.2},{"t":"2025-06-30T20:45","v":4078.8},{"t":"2025-06-30T22:00","v":4078.0},{"t":"2025-06-30T22:15","v":4077.6},
{"t":"2025-06-30T22:45","v":4075.7},{"t":"2025-06-30T23:15","v":4071.4},{"t":"2025-07-01T00:00","v":4065.1},{"t":"2025-07-01T00:30","v":4057.6},
{"t":"2025-07-01T01:00","v":4052.0},{"t":"2025-07-01T01:45","v":4047.7},{"t":"2025-07-01T02:00","v":4042.0},{"t":"2025-07-01T02:30","v":4034.6},
{"t":"2025-07-01T03:00","v":4024.8},{"t":"2025-07-01T03:30","v":4020.8},{"t":"2025-07-01T04:15","v":4016.5},{"t":"2025-07-01T04:45","v":4013.3},
{"t":"2025-07-01T05:15","v":4009.0},{"t":"2025-07-01T05:45","v":4002.7},{"t":"2025-07-01T06:30","v":3997.1},{"t":"2025-07-01T07:00","v":3992.4},
{"t":"2025-07-01T07:30","v":3989.6},{"t":"2025-07-01T07:45","v":3987.4},{"t":"2025-07-01T08:00","v":3986.5}
],
"rlo":[
{"t":"2025-06-28T23:15","v":4064.2},{"t":"2025-06-28T23:30","v":4062.6},{"t":"2025-06-28T23:45","v":4061.0},{"t":"2025-06-29T00:00","v":4059.5},
{"t":"2025-06-29T00:15","v":4057.3},{"t":"2025-06-29T00:45","v":4056.4},{"t":"2025-06-29T01:00","v":4054.6},{"t":"2025-06-29T01:30","v":4052.6},
{"t":"2025-06-29T02:00","v":4050.8},{"t":"2025-06-29T02:30","v":4049.2},{"t":"2025-06-29T03:00","v":4048.9},{"t":"2025-06-29T03:30","v":4048.5},
{"t":"2025-06-29T04:15","v":4047.7},{"t":"2025-06-29T04:45","v":4045.2},{"t":"2025-06-29T05:15","v":4042.3},{"t":"2025-06-29T05:45","v":4040.8},
{"t":"2025-06-29T06:30","v":4040.2},{"t":"2025-06-29T07:15","v":4039.3},{"t":"2025-06-29T07:45","v":4038.7},{"t":"2025-06-29T08:30","v":4038.1},
{"t":"2025-06-29T09:00","v":4036.8},{"t":"2025-06-29T09:30","v":4036.4},{"t":"2025-06-29T10:00","v":4033.9},{"t":"2025-06-29T10:30","v":4030.8},
{"t":"2025-06-29T11:15","v":4027.7},{"t":"2025-06-29T11:30","v":4026.4},{"t":"2025-06-29T12:00","v":4025.8},{"t":"2025-06-29T13:00","v":4026.4},
{"t":"2025-06-29T13:45","v":4024.6},{"t":"2025-06-29T14:00","v":4021.5},{"t":"2025-06-29T14:45","v":4017.7},{"t":"2025-06-29T15:15","v":4014.6},
{"t":"2025-06-29T15:45","v":4011.8},{"t":"2025-06-29T16:15","v":4009.6},{"t":"2025-06-29T16:45","v":4007.7},{"t":"2025-06-29T17:45","v":4007.1},
{"t":"2025-06-29T18:30","v":4006.1},{"t":"2025-06-29T19:00","v":4002.7},{"t":"2025-06-29T19:30","v":4001.1},{"t":"2025-06-29T20:00","v":3999.6},
{"t":"2025-06-29T20:45","v":3998.4},{"t":"2025-06-29T22:00","v":3998.1},{"t":"2025-06-29T22:30","v":3996.5},{"t":"2025-06-29T23:30","v":3994.6},
{"t":"2025-06-30T00:00","v":3993.4},{"t":"2025-06-30T00:30","v":3990.9},{"t":"2025-06-30T00:45","v":3985.9},{"t":"2025-06-30T01:15","v":3980.3},
{"t":"2025-06-30T01:45","v":3974.7},{"t":"2025-06-30T02:15","v":3965.9},{"t":"2025-06-30T02:45","v":3959.7},{"t":"2025-06-30T03:15","v":3954.7},
{"t":"2025-06-30T03:45","v":3952.0},{"t":"2025-06-30T04:15","v":3951.2},{"t":"2025-06-30T05:00","v":3949.6},{"t":"2025-06-30T05:45","v":3948.0},
{"t":"2025-06-30T06:30","v":3945.5},{"t":"2025-06-30T07:15","v":3944.5},{"t":"2025-06-30T08:00","v":3944.8},{"t":"2025-06-30T08:30","v":3945.5},
{"t":"2025-06-30T09:15","v":3947.6},{"t":"2025-06-30T10:00","v":3950.8},{"t":"2025-06-30T10:30","v":3955.8},{"t":"2025-06-30T11:15","v":3958.8},
{"t":"2025-06-30T12:00","v":3962.0},{"t":"2025-06-30T12:45","v":3964.5},{"t":"2025-06-30T13:30","v":3968.8},{"t":"2025-06-30T14:00","v":3973.4},
{"t":"2025-06-30T14:45","v":3979.7},{"t":"2025-06-30T15:30","v":3985.9},{"t":"2025-06-30T16:15","v":3990.3},{"t":"2025-06-30T16:45","v":3995.3},
{"t":"2025-06-30T17:30","v":3998.4},{"t":"2025-06-30T18:15","v":4003.4},{"t":"2025-06-30T19:00","v":4007.7},{"t":"2025-06-30T19:30","v":4011.1},
{"t":"2025-06-30T20:00","v":4012.4},{"t":"2025-06-30T20:45","v":4009.0},{"t":"2025-06-30T22:00","v":4007.7},{"t":"2025-06-30T22:30","v":4004.6},
{"t":"2025-06-30T23:15","v":4001.5},{"t":"2025-06-30T23:45","v":3998.6},{"t":"2025-07-01T00:15","v":3995.6},{"t":"2025-07-01T00:45","v":3992.1},
{"t":"2025-07-01T01:00","v":3990.5},{"t":"2025-07-01T01:30","v":3984.0},{"t":"2025-07-01T02:00","v":3978.4},{"t":"2025-07-01T02:30","v":3975.7},
{"t":"2025-07-01T03:00","v":3974.1},{"t":"2025-07-01T03:45","v":3970.0},{"t":"2025-07-01T04:15","v":3966.0},{"t":"2025-07-01T04:45","v":3962.2},
{"t":"2025-07-01T05:15","v":3958.7},{"t":"2025-07-01T05:45","v":3956.0},{"t":"2025-07-01T06:30","v":3953.2},{"t":"2025-07-01T06:45","v":3951.6},
{"t":"2025-07-01T07:15","v":3949.1},{"t":"2025-07-01T07:45","v":3947.5},{"t":"2025-07-01T08:00","v":3946.6}
]
},
"encoding":{
"x":{"field":"t","type":"temporal",
 "scale":{"domain":[{"year":2025,"month":6,"date":28,"hours":20,"minutes":24,"seconds":45},{"year":2025,"month":7,"date":1,"hours":10,"minutes":50,"seconds":15}]},
 "axis":{"title":"Time","format":"%m-%d %H","labelAngle":0,"labelPadding":6,"titlePadding":5,"labelFlush":false,"labelOverlap":false,
  "values":[{"year":2025,"month":6,"date":29,"hours":0},{"year":2025,"month":6,"date":29,"hours":6},{"year":2025,"month":6,"date":29,"hours":12},{"year":2025,"month":6,"date":29,"hours":18},{"year":2025,"month":6,"date":30,"hours":0},{"year":2025,"month":6,"date":30,"hours":6},{"year":2025,"month":6,"date":30,"hours":12},{"year":2025,"month":6,"date":30,"hours":18},{"year":2025,"month":7,"date":1,"hours":0},{"year":2025,"month":7,"date":1,"hours":6}]}},
"y":{"field":"v","type":"quantitative",
 "scale":{"domain":[3935.7,4128.8],"nice":false,"zero":false},
 "axis":{"title":"Price","format":"d","values":[3950,3975,4000,4025,4050,4075,4100,4125],"labelPadding":6.5,"titlePadding":6}}
},
"layer":[
{"data":{"name":"wm"},"mark":{"type":"text","font":"DejaVu Sans","fontSize":122,"angle":18,"align":"center","baseline":"middle","color":"#a6a6a6","opacity":0.5,"dx":3,"dy":2.5},
 "encoding":{"text":{"field":"label"}}},
{"data":{"name":"wm"},"mark":{"type":"text","font":"DejaVu Sans","fontSize":122,"angle":18,"align":"center","baseline":"middle","fill":"#f6f6f6","fillOpacity":0.92},
 "encoding":{"text":{"field":"label"}}},
{"data":{"name":"close"},"mark":{"type":"line","strokeWidth":2.2},
 "encoding":{"color":{"datum":"Close","type":"nominal",
  "scale":{"domain":["Close","Basis EMA","Upper band","Lower band","Regression mid","Regression upper","Regression lower"],"range":["#1f77b4","#ff7f0e","#2ca02c","#d62728","#9467bd","#8c564b","#e377c2"]},
  "legend":{"title":null}}}},
{"data":{"name":"ema"},"mark":{"type":"line","strokeWidth":2.2},"encoding":{"color":{"datum":"Basis EMA","type":"nominal"}}},
{"data":{"name":"up"},"mark":{"type":"line","strokeWidth":2.2},"encoding":{"color":{"datum":"Upper band","type":"nominal"}}},
{"data":{"name":"lo"},"mark":{"type":"line","strokeWidth":2.2},"encoding":{"color":{"datum":"Lower band","type":"nominal"}}},
{"data":{"name":"rmid"},"mark":{"type":"line","strokeWidth":2.2},"encoding":{"color":{"datum":"Regression mid","type":"nominal"}}},
{"data":{"name":"rup"},"mark":{"type":"line","strokeWidth":2.2},"encoding":{"color":{"datum":"Regression upper","type":"nominal"}}},
{"data":{"name":"rlo"},"mark":{"type":"line","strokeWidth":2.2},"encoding":{"color":{"datum":"Regression lower","type":"nominal"}}}
],
"config":{
"font":"DejaVu Sans",
"view":{"stroke":"black","strokeWidth":1.1},
"axis":{"labelFont":"DejaVu Sans","labelFontSize":15.3,"labelColor":"black","titleFont":"DejaVu Sans","titleFontSize":15.3,"titleFontWeight":"normal","titleColor":"black","tickColor":"black","tickSize":5.5,"tickWidth":1.1,"domain":false,"grid":true,"gridColor":"#e3e3e3","gridWidth":1.1},
"legend":{"orient":"top-right","offset":8,"fillColor":"rgba(255,255,255,0.85)","strokeColor":"#cccccc","cornerRadius":4,"padding":5.75,"labelFont":"DejaVu Sans","labelFontSize":15.3,"labelColor":"black","symbolType":"M-0.96,0H4.54","symbolStrokeWidth":2.2,"symbolSize":144,"rowPadding":6.2,"labelOffset":33,"labelLimit":400}
}
}
